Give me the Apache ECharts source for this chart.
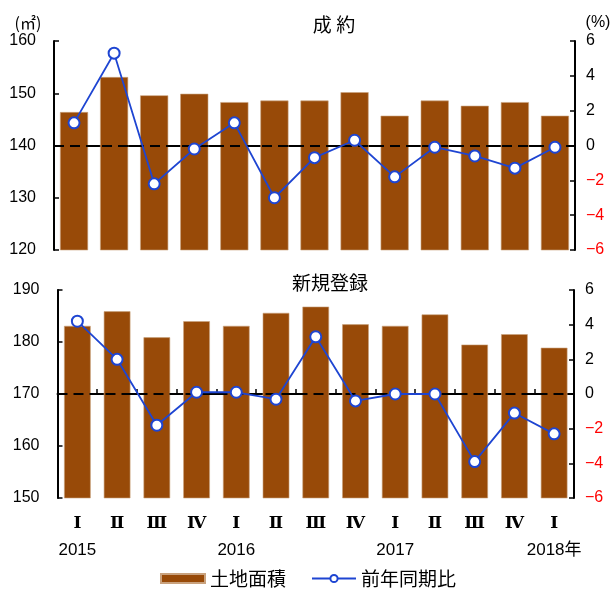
<!DOCTYPE html>
<html>
<head>
<meta charset="utf-8">
<script src="https://cdn.jsdelivr.net/npm/echarts@6/dist/echarts.min.js"></script>
<style>html,body{margin:0;padding:0;background:#fff}#c{width:616px;height:590px}</style>
</head>
<body>
<div id="c"></div>
<script>
var quarters = ['Ⅰ','Ⅱ','Ⅲ','Ⅳ','Ⅰ','Ⅱ','Ⅲ','Ⅳ','Ⅰ','Ⅱ','Ⅲ','Ⅳ','Ⅰ'];
var years = ['2015','','','','2016','','','','2017','','','','2018年'];
var categories = quarters.map(function(q,i){return i+'';});
var closedArea = [146.4,153.1,149.6,149.9,148.3,148.6,148.6,150.2,145.7,148.6,147.6,148.3,145.7];
var closedYoY  = [1.3,5.3,-2.2,-0.2,1.3,-3.0,-0.7,0.3,-1.8,-0.1,-0.6,-1.3,-0.1];
var newArea    = [183.1,185.9,180.9,184.0,183.1,185.6,186.8,183.4,183.1,185.3,179.5,181.5,178.9];
var newYoY     = [4.2,2.0,-1.8,0.1,0.1,-0.3,3.3,-0.4,0.0,0.0,-3.9,-1.1,-2.3];
var leftTicksTop = [120,160,10];
var leftTicksBottom = [150,190,10];
var rightTicks = [-6,6,2];

var NUM = '"Liberation Sans", Arial, sans-serif';
var JP = '"Noto Sans CJK JP", sans-serif';
var BAR = '#984A08';
var BLUE = '#1E45D2';

var chart = echarts.init(document.getElementById('c'), null, {renderer:'canvas'});

function leftAxis(gi, t){
  return {type:'value', gridIndex:gi, position:'left', min:t[0], max:t[1], interval:t[2],
    axisLine:{show:true, lineStyle:{color:'#000', width:2}},
    axisTick:{show:true, inside:true, length:5, lineStyle:{color:'#000', width:1.5}},
    splitLine:{show:false},
    axisLabel:{color:'#000', fontSize:16, fontFamily:NUM, margin:18}};
}
function rightAxis(gi){
  return {type:'value', gridIndex:gi, position:'right', min:rightTicks[0], max:rightTicks[1], interval:rightTicks[2],
    axisLine:{show:true, lineStyle:{color:'#000', width:2}},
    axisTick:{show:true, inside:true, length:5, lineStyle:{color:'#000', width:1.5}},
    splitLine:{show:false},
    axisLabel:{fontSize:16, fontFamily:NUM, margin:11,
      formatter:function(v){ return v<0 ? '{r|\u2212'+(-v)+'}' : '{b|'+v+'}'; },
      rich:{r:{color:'#FF0000', fontSize:16, fontFamily:NUM}, b:{color:'#000', fontSize:16, fontFamily:NUM}}}};
}
function zeroLine(){
  return {silent:true, symbol:['none','none'], label:{show:false},
    lineStyle:{color:'#000', type:[10,6], width:1.8}, data:[{yAxis:0}]};
}

var option = {
  animation:false,
  backgroundColor:'#fff',
  grid:[
    {left:54, right:41, top:41, height:209},
    {left:57.5, right:42, top:290, height:208}
  ],
  xAxis:[
    {type:'category', gridIndex:0, data:categories, boundaryGap:true,
     axisLine:{lineStyle:{color:'#000', width:2}}, axisTick:{show:false}, axisLabel:{show:false}},
    {type:'category', gridIndex:1, data:categories, boundaryGap:true,
     axisLine:{lineStyle:{color:'#000', width:2}},
     axisTick:{show:true, inside:true, length:5, lineStyle:{color:'#000', width:1.5}},
     axisLabel:{interval:0, margin:12,
       formatter:function(v, i){ var y = years[i]; return '{q|'+quarters[i]+'}' + (y ? '\n{y|'+y+'}' : ''); },
       rich:{q:{fontSize:17, fontFamily:'"DejaVu Serif", "Noto Serif CJK JP", serif', fontWeight:'bold', color:'#000', lineHeight:27, align:'center'},
             y:{fontSize:17, fontFamily:NUM + ',' + JP, color:'#000', lineHeight:27, align:'center'}}}}
  ],
  yAxis:[ leftAxis(0, leftTicksTop), rightAxis(0), leftAxis(1, leftTicksBottom), rightAxis(1) ],
  legend:{
    left:'center', top:569, padding:0, itemGap:25, itemWidth:44, itemHeight:9,
    textStyle:{fontSize:19, fontFamily:JP, color:'#000'},
    data:[{name:'土地面積', icon:'rect'}, {name:'前年同期比'}]
  },
  series:[
    {name:'土地面積', type:'bar', xAxisIndex:0, yAxisIndex:0, data:closedArea, barWidth:'70%',
     itemStyle:{color:BAR, borderColor:'#C9A27E', borderWidth:0.6}},
    {name:'前年同期比', type:'line', xAxisIndex:0, yAxisIndex:1, data:closedYoY, z:5,
     symbol:'circle', symbolSize:11, lineStyle:{color:BLUE, width:1.8},
     itemStyle:{color:'#fff', borderColor:BLUE, borderWidth:2}, markLine:zeroLine()},
    {name:'土地面積', type:'bar', xAxisIndex:1, yAxisIndex:2, data:newArea, barWidth:'67%',
     itemStyle:{color:BAR, borderColor:'#C9A27E', borderWidth:0.6}},
    {name:'前年同期比', type:'line', xAxisIndex:1, yAxisIndex:3, data:newYoY, z:5,
     symbol:'circle', symbolSize:11, lineStyle:{color:BLUE, width:1.8},
     itemStyle:{color:'#fff', borderColor:BLUE, borderWidth:2}, markLine:zeroLine()}
  ],
  graphic:[
    {type:'text', x:334, y:25, style:{text:'成 約', font:'19px '+JP, fill:'#000', align:'center', verticalAlign:'middle'}},
    {type:'text', x:330, y:283, style:{text:'新規登録', font:'19px '+JP, fill:'#000', align:'center', verticalAlign:'middle'}},
    {type:'text', x:28, y:23, style:{text:'(㎡)', font:'16px '+JP, fill:'#000', align:'center', verticalAlign:'middle'}},
    {type:'text', x:598, y:23, style:{text:'(%)', font:'16px '+NUM, fill:'#000', align:'center', verticalAlign:'middle'}}
  ]
};
chart.setOption(option);
</script>
</body>
</html>
